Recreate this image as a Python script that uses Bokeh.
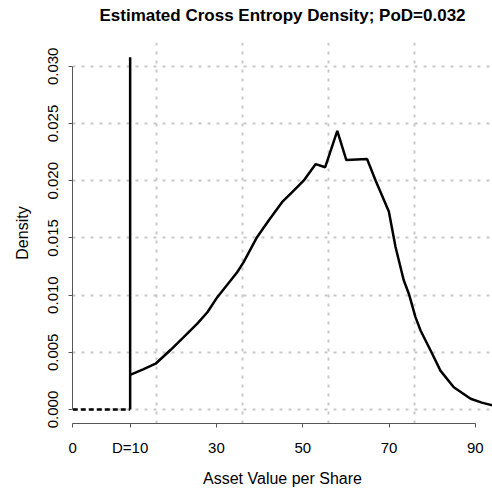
from bokeh.plotting import figure
from bokeh.models import Range1d, LinearAxis, FixedTicker, Grid, Title
from bokeh.embed import file_html
from bokeh.resources import INLINE

# ---- data ----
left_x = [-3.3, 10]
left_y = [0.0, 0.0]
spike_x = [10, 10]
spike_y = [0.0, 0.0308]
curve_x = [10, 13, 15.9, 19.4, 22.4, 25.5, 27.9, 30.2, 34.8, 36.3, 39.4, 42.1, 45.2,
           47.9, 50.2, 53.0, 55.2, 58.0, 60.1, 64.9, 66.9, 69.95, 71.5, 73.4, 74.6,
           76.1, 77.3, 80.0, 81.9, 85.0, 88.9, 91.5, 94.0]
curve_y = [0.00303, 0.0035, 0.0040, 0.00522, 0.00632, 0.00749, 0.0085, 0.00982, 0.0120,
           0.01288, 0.01506, 0.01652, 0.01812, 0.01914, 0.0200, 0.02145, 0.02118, 0.02436,
           0.0218, 0.0219, 0.0200, 0.0173, 0.0142, 0.0113, 0.0101, 0.0081, 0.0069,
           0.00487, 0.0034, 0.00195, 0.00094, 0.0006, 0.00035]
x_ticks = [-3.3, 10, 30, 50, 70, 90]
x_tick_labels = ["0", "D=10", "30", "50", "70", "90"]
y_ticks = [0.0, 0.005, 0.010, 0.015, 0.020, 0.025, 0.030]
y_tick_labels = ["0.000", "0.005", "0.010", "0.015", "0.020", "0.025", "0.030"]
x_grid = [16, 36, 56, 76]
title_text = "Estimated Cross Entropy Density; PoD=0.032"

FONT = "Liberation Sans"

p = figure(width=492, height=489,
           x_range=Range1d(-3.36, 93.97), y_range=Range1d(-0.001224, 0.03208),
           output_backend="svg", toolbar_location=None,
           x_axis_type=None, y_axis_type=None,
           min_border_left=72, min_border_right=0, min_border_top=42, min_border_bottom=66)
p.title = None
p.outline_line_color = None
p.background_fill_color = "white"
p.border_fill_color = "white"

# spacer (closest to the frame) then the real title above it
spacer = Title(text=" ", text_font=FONT, text_font_size="14px", standoff=0)
main_title = Title(text=title_text, text_font=FONT, text_font_size="17px",
                   text_font_style="bold", align="center", standoff=0,
                   text_color="#000000")
p.add_layout(spacer, "above")
p.add_layout(main_title, "above")

# grids
gx = Grid(dimension=0, ticker=FixedTicker(ticks=x_grid), grid_line_color="#c8c8c8",
          grid_line_width=2, grid_line_dash="3 6")
gy = Grid(dimension=1, ticker=FixedTicker(ticks=y_ticks), grid_line_color="#c8c8c8",
          grid_line_width=2, grid_line_dash="3 6")
p.add_layout(gx)
p.add_layout(gy)

# axes
xaxis = LinearAxis(ticker=FixedTicker(ticks=x_ticks), bounds=(x_ticks[0], x_ticks[-1]),
                   major_label_overrides={t: l for t, l in zip(x_ticks, x_tick_labels)},
                   axis_label="Asset Value per Share")
yaxis = LinearAxis(ticker=FixedTicker(ticks=y_ticks), bounds=(y_ticks[0], y_ticks[-1]),
                   major_label_overrides={t: l for t, l in zip(y_ticks, y_tick_labels)},
                   axis_label="Density", major_label_orientation="vertical")
for ax, s, a in ((xaxis, 11, 11), (yaxis, 10, 15)):
    ax.axis_line_color = "#555555"
    ax.major_tick_line_color = "#555555"
    ax.major_tick_in = 0
    ax.major_tick_out = 4
    ax.minor_tick_line_color = None
    ax.major_label_text_font = FONT
    ax.major_label_text_font_size = "15px"
    ax.major_label_text_color = "#000000"
    ax.major_label_standoff = s
    ax.axis_label_text_font = FONT
    ax.axis_label_text_font_size = "16px"
    ax.axis_label_text_font_style = "normal"
    ax.axis_label_text_color = "#000000"
    ax.axis_label_standoff = a
p.add_layout(xaxis, "below")
p.add_layout(yaxis, "left")

# data lines
p.line(left_x, left_y, line_color="black", line_width=2.5, line_dash="5 3")
p.line(spike_x, spike_y, line_color="black", line_width=2.5)
p.line(curve_x, curve_y, line_color="black", line_width=2.5)

open("out.html", "w").write(file_html(p, INLINE))
